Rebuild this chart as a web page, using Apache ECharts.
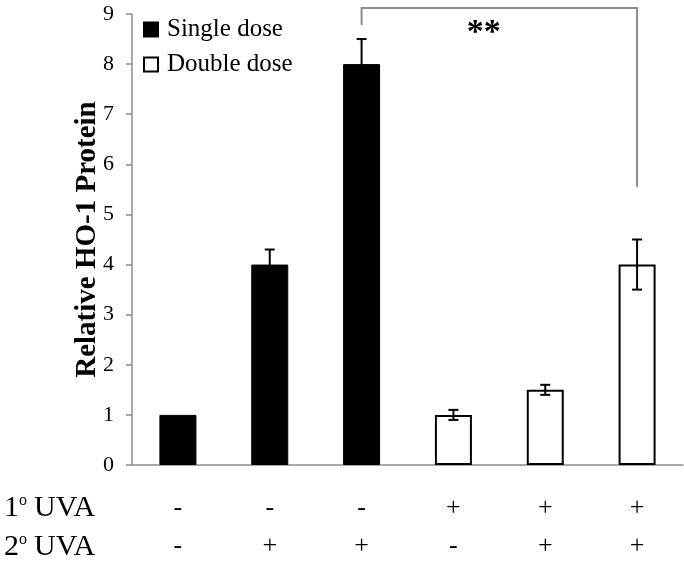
<!DOCTYPE html>
<html><head><meta charset="utf-8">
<script src="https://cdn.jsdelivr.net/npm/echarts@6/dist/echarts.min.js"></script>
<style>html,body{margin:0;padding:0;background:#fff}#c{width:684px;height:565px}</style>
</head><body><div id="c"></div>
<script>
var categories = ['-\n-', '-\n+', '-\n+', '+\n-', '+\n+', '+\n+'];
var singleDose = [1, 4, 8, '-', '-', '-'];
var doubleDose = ['-', '-', '-', 1, 1.5, 4];
var errors = [0, 0.3, 0.5, 0.1, 0.1, 0.5];
var means = [1, 4, 8, 1, 1.5, 4];
var bracketX = [2, 5];
var bracketY = [8.78, 9.12, 5.55];
var starLabel = '**';
var starPos = [3.33, 8.62];
var yTicks = {min: 0, max: 9, interval: 1};

var serif = 'Liberation Serif';
var errData = means.map(function (m, i) { return [i, m - errors[i], m + errors[i]]; }).filter(function (d, i) { return errors[i] > 0; });
var richRow = {n: {fontFamily: serif, fontSize: 30, color: '#000'}, s: {fontFamily: serif, fontSize: 16, verticalAlign: 'top', color: '#000', padding: [0, 7, 12, 0]}};

var chart = echarts.init(document.getElementById('c'));
chart.setOption({
  animation: false,
  backgroundColor: '#fff',
  grid: {left: 132, right: 1, top: 14, bottom: 98},
  legend: {
    orient: 'vertical', left: 138, top: 12, itemWidth: 14, itemHeight: 14, itemGap: 10,
    icon: 'rect',
    textStyle: {fontFamily: serif, fontSize: 25, color: '#000', padding: [0, 0, 0, 4]},
    data: ['Single dose', 'Double dose']
  },
  xAxis: {
    type: 'category', data: categories,
    axisLine: {lineStyle: {color: '#8c8c8c', width: 1.5}},
    axisTick: {length: 6, lineStyle: {color: '#8c8c8c', width: 1.5}},
    axisLabel: {fontFamily: serif, fontSize: 26, color: '#000', lineHeight: 38, margin: 24}
  },
  yAxis: {
    type: 'value', min: yTicks.min, max: yTicks.max, interval: yTicks.interval,
    name: 'Relative HO-1 Protein', nameLocation: 'middle', nameGap: 30, nameMoveOverlap: false,
    nameTextStyle: {fontFamily: serif, fontSize: 29, fontWeight: 'bold', color: '#000'},
    splitLine: {show: false},
    axisLine: {show: true, lineStyle: {color: '#8c8c8c', width: 1.5}},
    axisTick: {show: true, length: 6, lineStyle: {color: '#8c8c8c', width: 1.5}},
    axisLabel: {fontFamily: serif, fontSize: 22, color: '#000', margin: 18}
  },
  series: [
    {name: 'Single dose', type: 'bar', stack: 's', data: singleDose, barWidth: 37,
     itemStyle: {color: '#000', borderColor: '#000', borderWidth: 1}},
    {name: 'Double dose', type: 'bar', stack: 's', data: doubleDose, barWidth: 37,
     itemStyle: {color: '#fff', borderColor: '#000', borderWidth: 2}},
    {type: 'custom', data: errData, z: 10, silent: true,
     renderItem: function (params, api) {
       var x = api.value(0), lo = api.coord([x, api.value(1)]), hi = api.coord([x, api.value(2)]);
       var hw = 5, st = {stroke: '#000', lineWidth: 2};
       return {type: 'group', children: [
         {type: 'line', shape: {x1: lo[0], y1: lo[1], x2: hi[0], y2: hi[1]}, style: st},
         {type: 'line', shape: {x1: hi[0] - hw, y1: hi[1], x2: hi[0] + hw, y2: hi[1]}, style: st},
         {type: 'line', shape: {x1: lo[0] - hw, y1: lo[1], x2: lo[0] + hw, y2: lo[1]}, style: st}
       ]};
     }},
    {type: 'custom', data: [[bracketX[0], bracketX[1], bracketY[0], bracketY[1], bracketY[2], starPos[0], starPos[1]]], z: 10, silent: true, clip: false,
     renderItem: function (params, api) {
       var a = api.coord([api.value(0), api.value(2)]);
       var b = api.coord([api.value(0), api.value(3)]);
       var c = api.coord([api.value(1), api.value(3)]);
       var d = api.coord([api.value(1), api.value(4)]);
       var sx = api.value(5), i0 = Math.floor(sx), f = sx - i0;
       var p0 = api.coord([i0, api.value(6)]), p1 = api.coord([i0 + 1, api.value(6)]);
       var s = [p0[0] + (p1[0] - p0[0]) * f, p0[1]];
       return {type: 'group', children: [
         {type: 'polyline', shape: {points: [a, b, c, d]}, style: {stroke: '#8c8c8c', lineWidth: 2, fill: null}},
         {type: 'text', x: s[0], y: s[1], style: {text: starLabel, fontFamily: serif, fontSize: 34, fontWeight: 'bold', fill: '#000', align: 'center', verticalAlign: 'middle'}}
       ]};
     }}
  ],
  graphic: [
    {type: 'text', left: 4, top: 493, style: {text: '{n|1}{s|o}{n|UVA}', rich: richRow}},
    {type: 'text', left: 4, top: 532, style: {text: '{n|2}{s|o}{n|UVA}', rich: richRow}}
  ]
});
</script></body></html>
